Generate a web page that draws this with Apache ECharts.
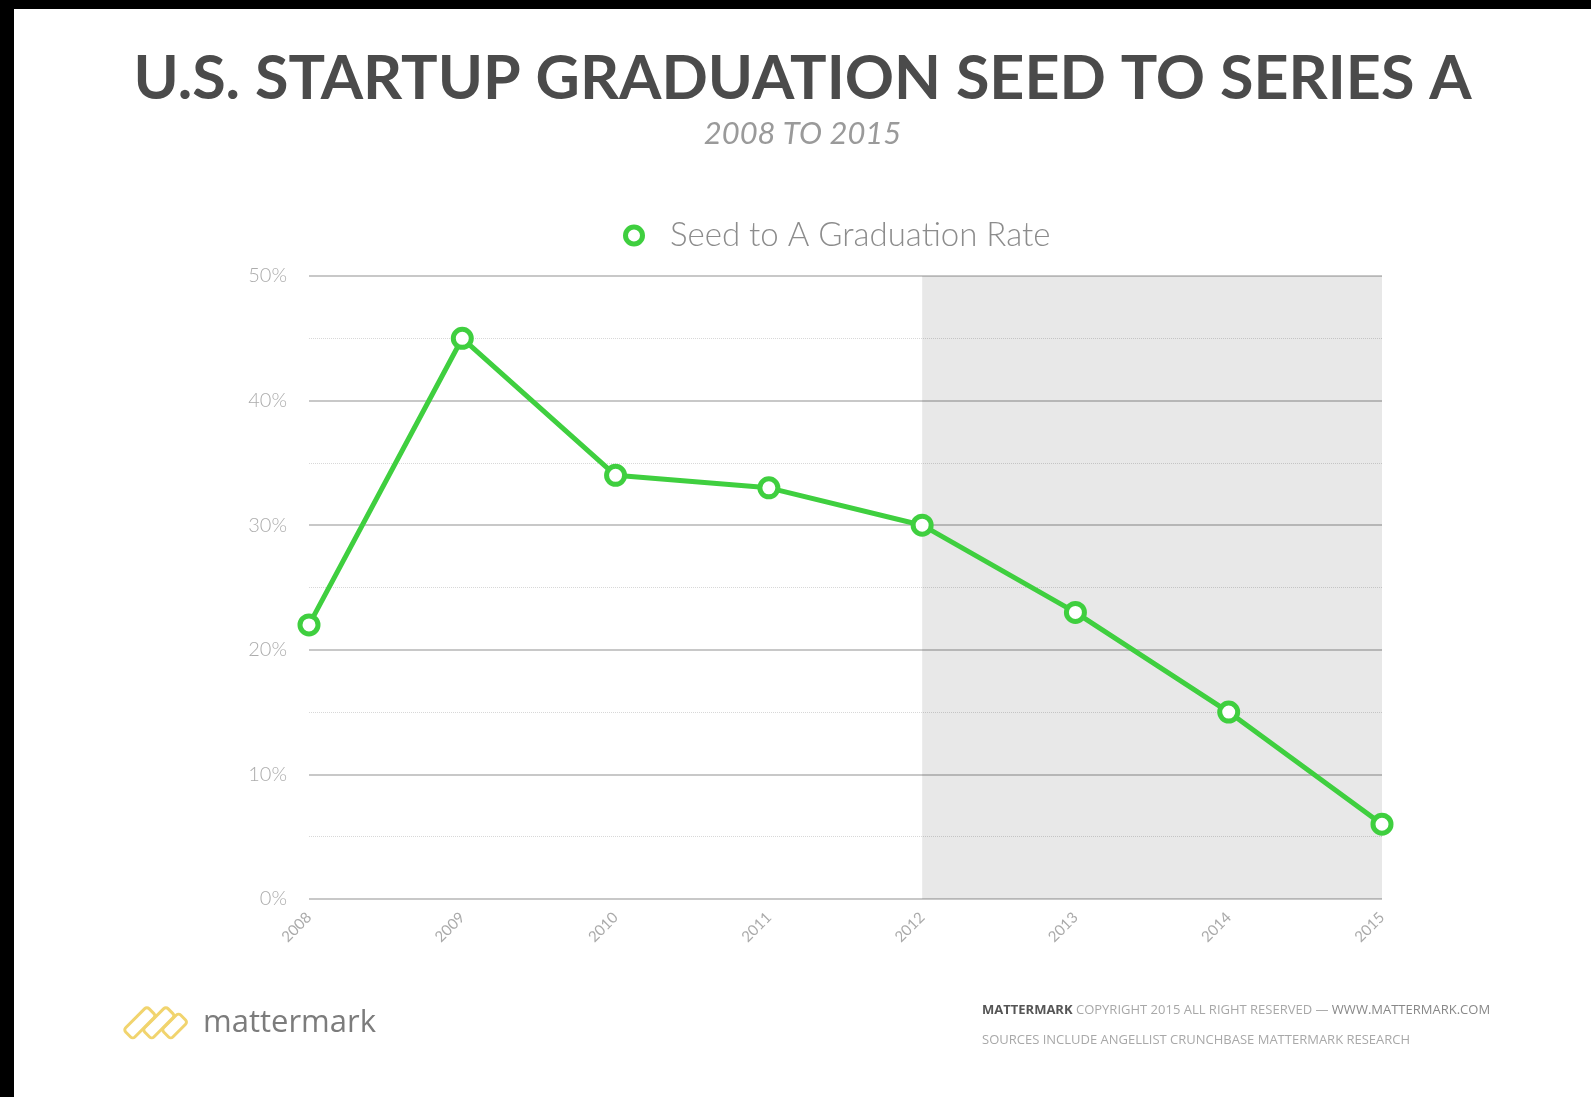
<!DOCTYPE html>
<html>
<head>
<meta charset="utf-8">
<script src="https://cdn.jsdelivr.net/npm/echarts@6/dist/echarts.min.js"></script>
<style>
  html, body { margin: 0; padding: 0; background: #000; }
  #chart { position: absolute; left: 14px; top: 9px; width: 1577px; height: 1088px; background: #fff; }
</style>
</head>
<body>
<div id="chart"></div>
<script>
let years = ['2008', '2009', '2010', '2011', '2012', '2013', '2014', '2015'];
let gradRate = [22, 45, 34, 33, 30, 23, 15, 6];
let shadeRange = ['2012', '2015'];
let seriesName = 'Seed to A Graduation Rate';

let green = '#3fcf3f';

function initChart() {

  let chart = echarts.init(document.getElementById('chart'));

  let option = {
    backgroundColor: '#fff',
    animation: false,
    legend: {
      data: [seriesName],
      left: 604,
      top: 205,
      icon: 'circle',
      itemWidth: 22,
      itemHeight: 17,
      itemStyle: { color: '#fff', borderColor: green, borderWidth: 5 },
      textStyle: {
        fontFamily: 'Lato',
        fontWeight: 300,
        fontSize: 33,
        color: '#8c8c8c',
        padding: [0, 0, 0, 20]
      }
    },
    grid: {
      left: 295,
      right: 209,
      top: 267,
      bottom: 198
    },
    xAxis: {
      type: 'category',
      data: years,
      boundaryGap: false,
      axisLine: { show: false },
      axisTick: { show: false },
      axisLabel: {
        rotate: 45,
        margin: 16,
        fontFamily: 'Lato',
        fontSize: 15,
        color: '#aaa'
      }
    },
    yAxis: {
      type: 'value',
      min: 0,
      max: 50,
      interval: 10,
      axisLine: { show: false },
      axisTick: { show: false },
      axisLabel: {
        formatter: '{value}%',
        margin: 22,
        fontFamily: 'Lato',
        fontWeight: 300,
        fontSize: 20,
        color: '#acacac'
      },
      splitLine: {
        lineStyle: { color: '#c8c8c8', width: 2 }
      },
      minorTick: { show: false, splitNumber: 2 },
      minorSplitLine: {
        show: true,
        lineStyle: { color: '#d8d8d8', width: 1, type: 'dotted' }
      }
    },
    series: [{
      name: seriesName,
      type: 'line',
      data: gradRate,
      symbol: 'circle',
      symbolSize: 18,
      lineStyle: { color: green, width: 5 },
      itemStyle: { color: '#fff', borderColor: green, borderWidth: 5 },
      markArea: {
        silent: true,
        itemStyle: { color: 'rgba(0,0,0,0.09)' },
        data: [[{ xAxis: shadeRange[0] }, { xAxis: shadeRange[1] }]]
      }
    }],
    graphic: [
      {
        type: 'text',
        left: 'center',
        top: 40,
        style: {
          text: 'U.S. STARTUP GRADUATION SEED TO SERIES A',
          font: 'bold 61px Lato',
          fill: '#4b4b4b'
        }
      },
      {
        type: 'text',
        left: 'center',
        top: 109,
        style: {
          text: '2008 TO 2015',
          font: 'italic 31px Lato',
          fill: '#9a9a9a'
        }
      },
      {
        type: 'group',
        left: 106,
        top: 994,
        children: [
          { type: 'rect', x: 9, y: 21, rotation: Math.PI / 4, shape: { x: 0, y: 0, width: 33, height: 13, r: 3 }, style: { fill: 'none', stroke: '#f1d46e', lineWidth: 3 } },
          { type: 'rect', x: 28, y: 21, rotation: Math.PI / 4, shape: { x: 0, y: 0, width: 33, height: 13, r: 3 }, style: { fill: 'none', stroke: '#f1d46e', lineWidth: 3 } },
          { type: 'rect', x: 47, y: 21, rotation: Math.PI / 4, shape: { x: 0, y: 0, width: 24, height: 13, r: 3 }, style: { fill: 'none', stroke: '#f1d46e', lineWidth: 3 } }
        ]
      },
      {
        type: 'text',
        left: 189,
        top: 999,
        style: {
          text: 'mattermark',
          font: '31px "Open Sans"',
          fill: '#7c7c7c'
        }
      },
      {
        type: 'text',
        left: 968,
        top: 995,
        style: {
          text: '{b|MATTERMARK} COPYRIGHT 2015 ALL RIGHT RESERVED — {u|WWW.MATTERMARK.COM}',
          font: '13px "Open Sans"',
          fill: '#a8a8a8',
          rich: {
            b: { font: 'bold 13px "Open Sans"', fill: '#555' },
            u: { font: '13px "Open Sans"', fill: '#888' }
          }
        }
      },
      {
        type: 'text',
        left: 968,
        top: 1025,
        style: {
          text: 'SOURCES INCLUDE ANGELLIST CRUNCHBASE MATTERMARK RESEARCH',
          font: '13px "Open Sans"',
          fill: '#a8a8a8'
        }
      }
    ]
  };

  chart.setOption(option);

}

document.addEventListener('DOMContentLoaded', initChart);
</script>
</body>
</html>
